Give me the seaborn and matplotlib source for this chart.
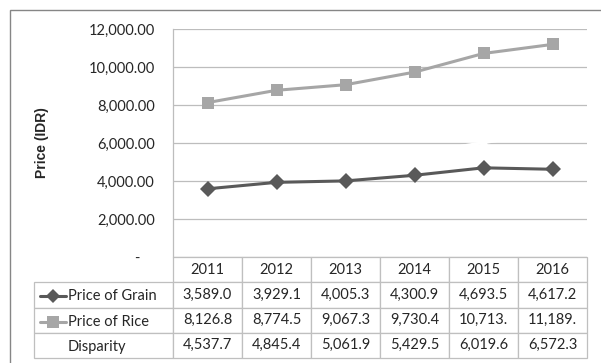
import pandas as pd
import numpy as np
import seaborn as sns
import matplotlib.pyplot as plt
from matplotlib.patches import Rectangle

# Data
years = ['2011', '2012', '2013', '2014', '2015', '2016']
grain = [3589.0, 3929.1, 4005.3, 4300.9, 4693.5, 4617.2]
rice = [8126.8, 8774.5, 9067.3, 9730.4, 10713.1, 11189.5]
disparity = [4537.7, 4845.4, 5061.9, 5429.5, 6019.6, 6572.3]
series_names = ['Price of Grain', 'Price of Rice', 'Disparity']
y_ticks = [0, 2000, 4000, 6000, 8000, 10000, 12000]

sns.set_style('white')
plt.rcParams['font.family'] = ['Lato', 'DejaVu Sans']
plt.rcParams['font.size'] = 10.5

df = pd.DataFrame({
    'pos': list(range(len(years))) * 3,
    'price': grain + rice + disparity,
    'series': [s for s in series_names for _ in years],
})

fig = plt.figure(figsize=(6.01, 3.63), dpi=100)
ax = fig.add_axes([173 / 601, 1 - 257 / 363, 414 / 601, 228 / 363])

palette = {'Price of Grain': '#595959', 'Price of Rice': '#a6a6a6', 'Disparity': 'white'}
markers = {'Price of Grain': 'D', 'Price of Rice': 's', 'Disparity': '^'}
sizes = {'Price of Grain': 8, 'Price of Rice': 9}
sns.lineplot(data=df, x='pos', y='price', hue='series', style='series',
             palette=palette, markers=markers, dashes=False, linewidth=2.2,
             markersize=8.5, markeredgewidth=0, legend=False, ax=ax, zorder=3)

ax.set_xlim(-0.5, len(years) - 0.5)
ax.set_ylim(0, 12000)
ax.set_yticks(y_ticks)
ax.set_yticklabels(['-    '] + [f'{v:,.2f}' for v in y_ticks[1:]])
ax.set_xticks([])
ax.set_xlabel('')
ax.tick_params(axis='y', length=0, pad=13)
ax.grid(axis='y', color='#bdbdbd', linewidth=0.9)
for side in ['top', 'right', 'bottom']:
    ax.spines[side].set_visible(False)
ax.spines['left'].set_color('#bdbdbd')
ax.spines['left'].set_linewidth(0.9)
ax.set_ylabel('Price (IDR)', fontweight='bold', fontsize=10,
              family=['Liberation Sans', 'DejaVu Sans'])
ax.yaxis.set_label_coords(-0.30, 0.5)

# data table under the plot (first column holds the series keys)
def fmt(v):
    return f'{v:,.1f}'[:7]

cell_text = [[''] + [fmt(v) for v in vals] for vals in (grain, rice, disparity)]
tbl = ax.table(cellText=cell_text, colLabels=[''] + years,
               colWidths=[139 / 553] + [69 / 553] * 6, cellLoc='center',
               bbox=[-139 / 414, -101 / 228, 553 / 414, 101 / 228])
tbl.auto_set_font_size(False)
tbl.set_fontsize(10.5)
for (r, c), cell in tbl.get_celld().items():
    cell.set_edgecolor('#bfbfbf')
    cell.set_linewidth(0.9)
tbl[0, 0].visible_edges = ''

row_y = [-0.171, -0.285, -0.393]
for name, y in zip(series_names, row_y):
    ax.text(-0.2536, y, name, transform=ax.transAxes, ha='left', va='center', fontsize=10.5)
    if name != 'Disparity':
        ax.plot([-0.321, -0.258], [y, y], transform=ax.transAxes, clip_on=False,
                color=palette[name], linewidth=2.2)
        ax.plot([-0.2895], [y], transform=ax.transAxes, clip_on=False,
                color=palette[name], marker=markers[name], markersize=sizes[name] - 1,
                markeredgewidth=0)

# outer chart border
fig.patches.append(Rectangle((10 / 601, -0.05), 1.0, 1 - 10 / 363 + 0.05,
                             transform=fig.transFigure, fill=False,
                             edgecolor='#868686', linewidth=1.0))

fig.savefig('out.png', dpi=100)
